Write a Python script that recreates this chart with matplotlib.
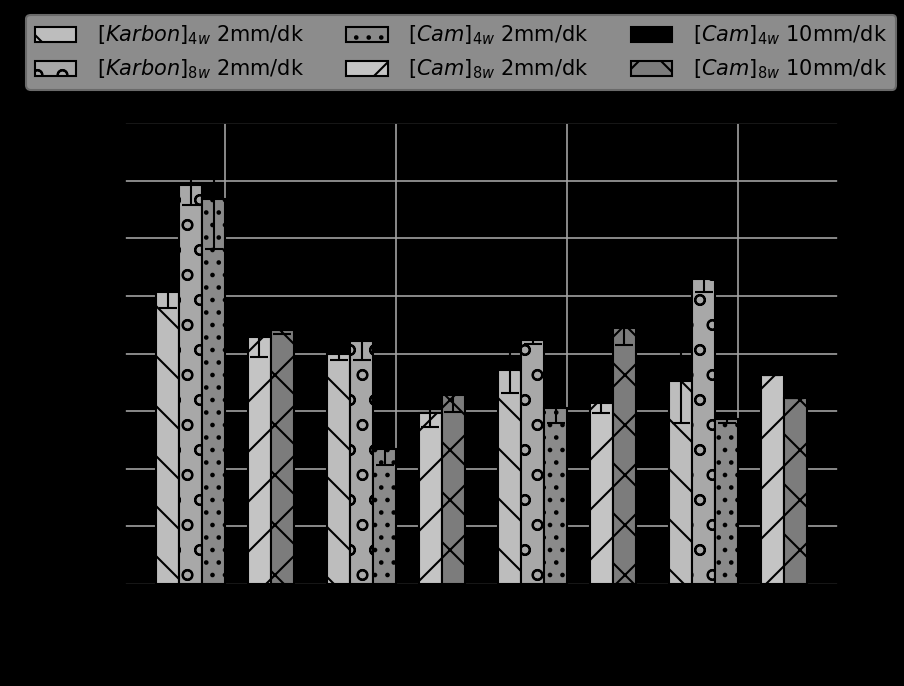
import numpy as np
import matplotlib.pyplot as plt

# Ortalama değerler ve standart sapmalar (4 numune grubu)
gruplar = [1, 2, 3, 4]

karbon_4w = [50.7, 40.0, 37.1, 35.3]
karbon_4w_err = [2.8, 1.1, 4.0, 7.3]
karbon_8w = [69.2, 42.1, 42.3, 53.0]
karbon_8w_err = [3.5, 3.2, 0.6, 2.3]
cam_4w_2 = [66.8, 23.4, 30.5, 28.6]
cam_4w_2_err = [8.7, 2.7, 2.6, 0.7]
cam_4w_10 = [np.nan, np.nan, np.nan, np.nan]
cam_4w_10_err = [0, 0, 0, 0]
cam_8w_2 = [42.9, 29.6, 31.4, 36.3]
cam_8w_2_err = [3.5, 2.4, 1.7, 0]
cam_8w_10 = [44.1, 32.8, 44.4, 32.2]
cam_8w_10_err = [0.7, 2.9, 2.9, 0]

seriler = [
    (karbon_4w, karbon_4w_err, r"$[Karbon]_{4w}$ 2mm/dk", "#bdbdbd", "\\"),
    (karbon_8w, karbon_8w_err, r"$[Karbon]_{8w}$ 2mm/dk", "#a8a8a8", "o"),
    (cam_4w_2, cam_4w_2_err, r"$[Cam]_{4w}$ 2mm/dk", "#8a8a8a", ".."),
    (cam_4w_10, cam_4w_10_err, r"$[Cam]_{4w}$ 10mm/dk", "#000000", None),
    (cam_8w_2, cam_8w_2_err, r"$[Cam]_{8w}$ 2mm/dk", "#c4c4c4", "/"),
    (cam_8w_10, cam_8w_10_err, r"$[Cam]_{8w}$ 10mm/dk", "#7c7c7c", "x"),
]

plt.rcParams['font.size'] = 10

fig = plt.figure(figsize=(904 / 150, 686 / 150), dpi=150, facecolor='black')
ax = fig.add_axes([125 / 904, 102 / 686, 713 / 904, 461 / 686], facecolor='black')

x = np.arange(len(gruplar))
w = 0.134

cubuklar = []
for i, (y, err, etiket, renk, desen) in enumerate(seriler):
    b = ax.bar(x + (i - 3) * w, y, w, align='edge', yerr=err, color=renk,
               edgecolor='black', linewidth=1.0, hatch=desen, label=etiket,
               capsize=4.5, error_kw=dict(elinewidth=1.0, capthick=1.0, ecolor='black'))
    cubuklar.append(b)

ax.set_xlim(-0.585, 3.585)
ax.set_ylim(0, 80)
ax.set_yticks(np.arange(0, 81, 10))
ax.set_xticks(x)
ax.set_xticklabels(gruplar)
ax.set_axisbelow(True)
ax.grid(True, color='#a0a0a0', linewidth=0.8)
for s in ax.spines.values():
    s.set_color('black')

# lejant sırası: 2mm/dk serileri önce, 10mm/dk serileri son sütunda
sira = [0, 1, 2, 4, 3, 5]
fig.legend([cubuklar[k] for k in sira], [seriler[k][2] for k in sira],
           ncol=3, loc='upper center', bbox_to_anchor=(0.51, 0.993),
           facecolor='#8c8c8c', edgecolor='#6a6a6a', framealpha=1.0,
           handletextpad=1.0, columnspacing=2.0)

fig.savefig('out.png', dpi=150, facecolor='black')
